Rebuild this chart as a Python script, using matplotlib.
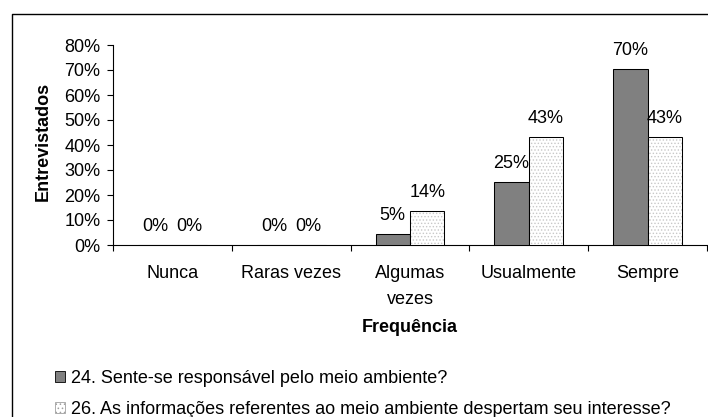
import numpy as np
import matplotlib
matplotlib.use('Agg')
import matplotlib.pyplot as plt
from matplotlib.patches import Patch
from matplotlib.lines import Line2D

plt.rcParams['font.family'] = ['Liberation Sans', 'DejaVu Sans']
plt.rcParams['font.size'] = 13
plt.rcParams['hatch.linewidth'] = 0.6

categories = ['Nunca', 'Raras vezes', 'Algumas\nvezes', 'Usualmente', 'Sempre']
q24 = [0, 0, 4.6, 25.2, 70.4]
q26 = [0, 0, 13.6, 43.2, 43.2]
names = ['24. Sente-se responsável pelo meio ambiente?',
         '26. As informações referentes ao meio ambiente despertam seu interesse?']
yticks = [0, 10, 20, 30, 40, 50, 60, 70, 80]

W, H = 708, 417
fs = 13
fig = plt.figure(figsize=(W/100, H/100), dpi=100)
ax = fig.add_axes([113/W, 1-245/H, 594/W, 200/H])

x = np.arange(len(categories))
bw = 0.29
grey = '#808080'
ax.bar(x - bw/2, q24, bw, color=grey, edgecolor='black', linewidth=0.75, zorder=3)
# dotted fill, then black outline on top
ax.bar(x + bw/2, q26, bw, color='white', edgecolor='#c8c8c8', hatch='.....', linewidth=0, zorder=3)
ax.bar(x + bw/2, q26, bw, fill=False, edgecolor='black', linewidth=0.75, zorder=4)

for xs, vals in ((x - bw/2, q24), (x + bw/2, q26)):
    for xi, v in zip(xs, vals):
        ax.annotate(f'{v:.0f}%', (xi, v), xytext=(0, 13), textcoords='offset points',
                    ha='center', va='center', fontsize=fs, zorder=5)

ax.set_xlim(-0.5, len(categories) - 0.5)
ax.set_ylim(0, 80)
ax.set_yticks(yticks)
ax.set_yticklabels([f'{t}%' for t in yticks], fontsize=fs)
ax.set_xticks(x)
ax.set_xticklabels(categories, fontsize=fs, linespacing=1.65)
ax.set_xticks(np.arange(len(categories) + 1) - 0.5, minor=True)
ax.tick_params(axis='x', which='major', length=0, pad=14.5)
ax.tick_params(axis='x', which='minor', length=4, width=0.8, direction='out')
ax.tick_params(axis='y', length=4, width=0.8, direction='out', pad=5)
for s in ['top', 'right']:
    ax.spines[s].set_visible(False)
for s in ['left', 'bottom']:
    ax.spines[s].set_linewidth(0.8)

fig.text(43/W, 1-141/H, 'Entrevistados', rotation=90, ha='center', va='center',
         fontsize=fs, fontweight='bold')
fig.text(410/W, 1-327/H, 'Frequência', ha='center', va='center',
         fontsize=fs, fontweight='bold')

handles = [Patch(facecolor=grey, edgecolor='black', linewidth=0.6),
           Patch(facecolor='white', edgecolor='#a0a0a0', hatch='....', linewidth=0.6)]
fig.legend(handles, names, loc='upper left', bbox_to_anchor=(55/W, 1-370/H),
           frameon=False, fontsize=fs, borderpad=0, borderaxespad=0,
           handlelength=0.55, handleheight=0.55, handletextpad=0.33, labelspacing=0.78)

# outer chart frame (clipped at right and bottom)
fig.add_artist(Line2D([12/W, 12/W, 1], [0, 1-14/H, 1-14/H], color='black', linewidth=1.0))

fig.savefig('out.png', dpi=100)
